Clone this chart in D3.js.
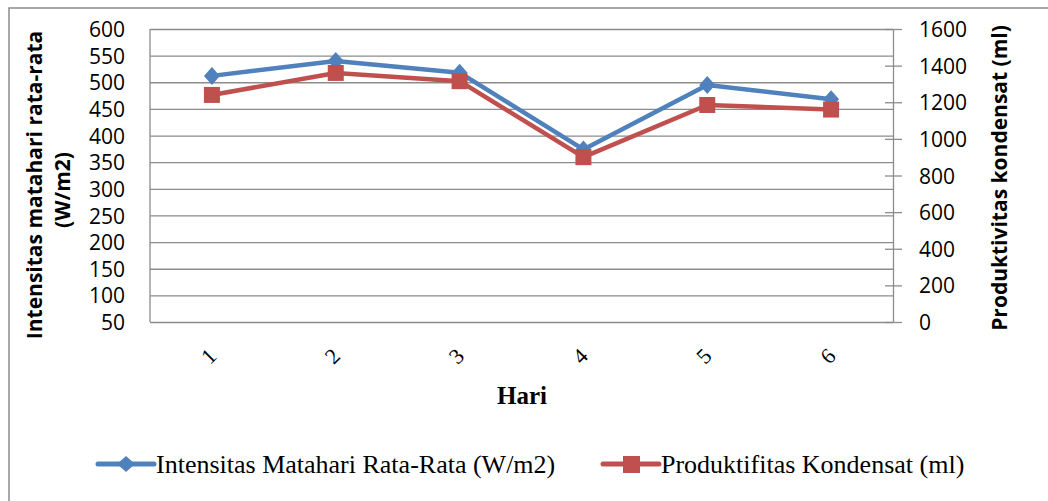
<!DOCTYPE html>
<meta charset="utf-8">
<style>
body { margin: 0; background: #fff; }
.tick text { fill: #000; }
.grid line { stroke: #8c8c8c; stroke-width: 1.3px; }
.grid path { stroke: none; }
.axisL text, .axisR text { font-family: "Open Sans", "Liberation Sans", sans-serif; font-size: 21px; }
.axisR line, .axisR path { stroke: #8c8c8c; stroke-width: 1.3px; }
.axisX text { font-family: "Liberation Serif", serif; font-size: 22px; }
.title { font-family: "Open Sans", "Liberation Sans", sans-serif; font-weight: bold; font-size: 21px; }
.legend text { font-family: "Liberation Serif", serif; font-size: 26px; }
</style>
<svg width="1048" height="501"></svg>
<script src="https://cdn.jsdelivr.net/npm/d3@7"></script>
<script>

var days = ["1", "2", "3", "4", "5", "6"];
var intensitas = [512, 540, 518, 374, 495, 468];
var produktifitas = [1240, 1360, 1315, 900, 1185, 1160];
var leftTicks = [50, 100, 150, 200, 250, 300, 350, 400, 450, 500, 550, 600];
var rightTicks = [0, 200, 400, 600, 800, 1000, 1200, 1400, 1600];

var blue = "#4f81bd", red = "#c0504d";

var svg = d3.select("svg");
var pL = 150, pR = 893, pT = 29, pB = 322;

var x = d3.scalePoint().domain(days).range([pL, pR]).padding(0.5);
var yL = d3.scaleLinear().domain([50, 600]).range([pB, pT]);
var yR = d3.scaleLinear().domain([0, 1600]).range([pB, pT]);

// outer frame
svg.append("rect")
    .attr("x", 9).attr("y", 8)
    .attr("width", 1200).attr("height", 800)
    .attr("fill", "none")
    .attr("stroke", "#8c8c8c")
    .attr("stroke-width", 1.5);

// gridlines
svg.append("g")
    .attr("class", "grid")
    .attr("transform", "translate(" + pL + ",0)")
    .call(d3.axisLeft(yL).tickValues(leftTicks).tickSize(-(pR - pL)).tickFormat(""));

// left axis line
svg.append("line")
    .attr("x1", pL).attr("x2", pL).attr("y1", pT).attr("y2", pB)
    .attr("stroke", "#8c8c8c").attr("stroke-width", 1.3);

// left labels
svg.append("g")
    .attr("class", "axisL")
    .attr("transform", "translate(" + pL + ",0)")
    .call(d3.axisLeft(yL).tickValues(leftTicks).tickSize(0).tickPadding(25))
    .call(function(g) { g.select(".domain").remove(); })
    .selectAll("text").attr("dy", "0.36em");

// right axis
svg.append("g")
    .attr("class", "axisR")
    .attr("transform", "translate(" + pR + ",0)")
    .call(d3.axisRight(yR).tickValues(rightTicks).tickFormat(d3.format("d"))
      .tickSizeOuter(0).tickSizeInner(9).tickPadding(17))
    .call(function(g) {
      g.selectAll(".tick line").attr("x1", -8);
      g.selectAll("text").attr("dy", "0.36em");
    });

// x labels
var xa = svg.append("g")
    .attr("class", "axisX")
    .attr("transform", "translate(0," + pB + ")")
    .call(d3.axisBottom(x).tickSize(0).tickFormat(function(d) { return d; }));
xa.select(".domain").remove();
xa.selectAll("text")
    .attr("text-anchor", "middle")
    .attr("x", 0).attr("y", 0).attr("dy", "0.35em")
    .attr("transform", "translate(-4,34) rotate(-45)");

// series lines
var lineL = d3.line().x(function(d, i) { return x(days[i]); }).y(function(d) { return yL(d); });
var lineR = d3.line().x(function(d, i) { return x(days[i]); }).y(function(d) { return yR(d); });

svg.append("path").datum(intensitas)
    .attr("d", lineL).attr("fill", "none")
    .attr("stroke", blue).attr("stroke-width", 4.5).attr("stroke-linejoin", "round");

svg.selectAll(".dia").data(intensitas).enter().append("path")
    .attr("d", "M0,-9L8,0L0,9L-8,0Z")
    .attr("fill", blue)
    .attr("transform", function(d, i) { return "translate(" + x(days[i]) + "," + yL(d) + ")"; });

svg.append("path").datum(produktifitas)
    .attr("d", lineR).attr("fill", "none")
    .attr("stroke", red).attr("stroke-width", 4.5).attr("stroke-linejoin", "round");

svg.selectAll(".sq").data(produktifitas).enter().append("rect")
    .attr("x", function(d, i) { return x(days[i]) - 8; })
    .attr("y", function(d) { return yR(d) - 8; })
    .attr("width", 16).attr("height", 16)
    .attr("fill", red);

// axis titles
svg.append("text")
    .attr("class", "title")
    .attr("transform", "translate(35,185) rotate(-90)")
    .attr("text-anchor", "middle")
    .attr("dy", "0.35em")
    .text("Intensitas matahari rata-rata");
svg.append("text")
    .attr("class", "title")
    .attr("transform", "translate(63,190) rotate(-90)")
    .attr("text-anchor", "middle")
    .attr("dy", "0.35em")
    .text("(W/m2)");
svg.append("text")
    .attr("class", "title")
    .attr("transform", "translate(1000,178) rotate(-90)")
    .attr("text-anchor", "middle")
    .attr("dy", "0.35em")
    .text("Produktivitas kondensat (ml)");

svg.append("text")
    .attr("x", 522).attr("y", 404)
    .attr("text-anchor", "middle")
    .style("font-family", "'Liberation Serif', serif")
    .style("font-weight", "bold")
    .style("font-size", "25px")
    .text("Hari");

// legend
var legend = [
  {name: "Intensitas Matahari Rata-Rata (W/m2)", color: blue, shape: "diamond", x: 98},
  {name: "Produktifitas Kondensat (ml)", color: red, shape: "square", x: 603}
];
var lg = svg.append("g").attr("class", "legend")
  .selectAll("g").data(legend).enter().append("g")
    .attr("transform", function(d) { return "translate(" + d.x + ",464)"; });
lg.append("line")
    .attr("x1", 0).attr("x2", 56).attr("y1", 0).attr("y2", 0)
    .attr("stroke", function(d) { return d.color; })
    .attr("stroke-width", 5).attr("stroke-linecap", "round");
lg.filter(function(d) { return d.shape === "diamond"; }).append("path")
    .attr("d", "M28,-8L37,0L28,8L19,0Z")
    .attr("fill", function(d) { return d.color; });
lg.filter(function(d) { return d.shape === "square"; }).append("rect")
    .attr("x", 20).attr("y", -8).attr("width", 17).attr("height", 17)
    .attr("fill", function(d) { return d.color; });
lg.append("text")
    .attr("x", 58).attr("y", 9)
    .text(function(d) { return d.name; });

</script>
